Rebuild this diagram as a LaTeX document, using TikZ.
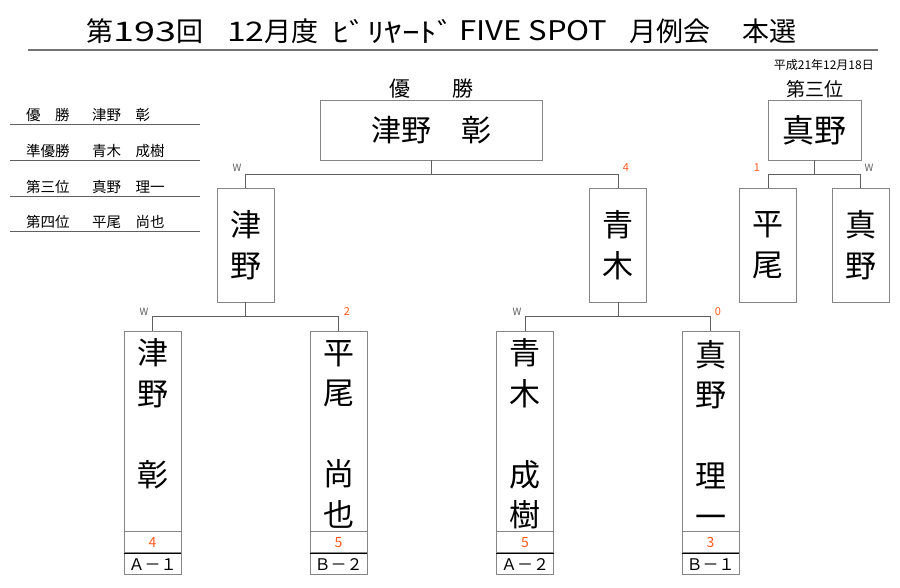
\documentclass[tikz,border=0pt]{standalone}
\usepackage{fontspec}
\setmainfont{Noto Sans CJK JP}
\usetikzlibrary{positioning}
\definecolor{scorered}{HTML}{FF5A1E}
\definecolor{framegray}{HTML}{858585}
\definecolor{linegray}{HTML}{606060}
\tikzset{
	titletext/.style={anchor=west, inner sep=0pt, font=\fontsize{27}{27}\selectfont},
	namebox/.style={draw=framegray, line width=0.9pt, inner sep=0pt, align=center, font=\fontsize{31}{40.5}\selectfont},
	tallbox/.style={draw=framegray, line width=0.9pt, inner sep=0pt, minimum width=57pt, minimum height=200pt},
	nametext/.style={inner sep=0pt, align=center, font=\fontsize{31}{40.5}\selectfont},
	midbox/.style={namebox, minimum width=57pt, minimum height=114pt},
	scorebox/.style={draw=framegray, line width=0.9pt, inner sep=0pt, minimum width=57pt, minimum height=21pt, text=scorered, font=\fontsize{14}{14}\selectfont},
	groupbox/.style={draw=framegray, line width=0.9pt, inner sep=0pt, minimum width=57pt, minimum height=21pt, font=\fontsize{16}{16}\selectfont},
	bracket/.style={draw=linegray, line width=0.9pt},
	winmark/.style={text=linegray, inner sep=0pt, font=\fontsize{10}{10}\selectfont},
	scoremark/.style={text=scorered, inner sep=0pt, font=\fontsize{11}{11}\selectfont},
	listtext/.style={anchor=west, inner sep=0pt, font=\fontsize{14.5}{14.5}\selectfont}
}

\begin{document}
\begin{tikzpicture}[x=1pt, y=-1pt]
	%%%%% START %%%%%
	\useasboundingbox (0,0) rectangle (900,587);
	
	% title
	\node[titletext] (title1) at (86,31) {第\scalebox{1.4}[1]{193}回};
	\node[titletext] (title2) at (227,31) {\scalebox{1.25}[1]{12}月度};
	\node[titletext] (title3) at (332,31) {\scalebox{1.3}[1]{ﾋﾞﾘﾔｰﾄﾞ}};
	\node[titletext] (title4) at (459,31) {\scalebox{1.15}[1]{FIVE SPOT}};
	\node[titletext] (title5) at (629,31) {月例会};
	\node[titletext] (title6) at (742,31) {本選};
	\draw[line width=2.5pt, color=black!55] (28,50) -- (878,50);
	\node[anchor=east, inner sep=0pt, font=\fontsize{12}{12}\selectfont] (date) at (874,65) {平成21年12月18日};
	
	% ranking list
	\node[listtext] (rank1) at (26,115) {優　勝};
	\node[listtext] (name1) at (92,115) {津野　彰};
	\draw[line width=0.8pt, color=linegray] (10,124) -- (200,124);
	\node[listtext] (rank2) at (26,151) {準優勝};
	\node[listtext] (name2) at (92,151) {青木　成樹};
	\draw[line width=0.8pt, color=linegray] (10,160) -- (200,160);
	\node[listtext] (rank3) at (26,187) {第三位};
	\node[listtext] (name3) at (92,187) {真野　理一};
	\draw[line width=0.8pt, color=linegray] (10,196) -- (200,196);
	\node[listtext] (rank4) at (26,222) {第四位};
	\node[listtext] (name4) at (92,222) {平尾　尚也};
	\draw[line width=0.8pt, color=linegray] (10,231) -- (200,231);
	
	% final
	\node[namebox, minimum width=222pt, minimum height=60pt, font=\fontsize{30}{30}\selectfont] (champ) at (431,130) {津野　彰};
	\node[above=1pt of champ, inner sep=0pt, font=\fontsize{21}{21}\selectfont] (champlabel) {優　　勝};
	\node[midbox] (tsuno2) at (245.5,245) {津\\野};
	\node[midbox] (aoki2) at (618,245) {青\\木};
	\draw[bracket] (champ.south) -- ++(0,14) -| (tsuno2.north);
	\draw[bracket] (champ.south) ++(0,14) -| (aoki2.north);
	\node[winmark] (w1) at (237,168) {W};
	\node[scoremark] (p1) at (626,168) {4};
	
	% third place
	\node[namebox, minimum width=93pt, minimum height=60pt, font=\fontsize{32}{32}\selectfont] (third) at (814.5,130) {真野};
	\node[above=1pt of third, inner sep=0pt, font=\fontsize{19}{19}\selectfont] (thirdlabel) {第三位};
	\node[midbox] (hirao3) at (768,245) {平\\尾};
	\node[midbox] (mano3) at (860.5,245) {真\\野};
	\draw[bracket] (third.south) -- ++(0,14) -| (hirao3.north);
	\draw[bracket] (third.south) ++(0,14) -| (mano3.north);
	\node[scoremark] (p2) at (757,168) {1};
	\node[winmark] (w2) at (869,168) {W};
	
	% first round
	\node[tallbox] (L1) at (152.5,431) {};
	\node[tallbox] (L2) at (338.5,431) {};
	\node[tallbox] (L3) at (525,431) {};
	\node[tallbox] (L4) at (710.5,431) {};
	\node[nametext] (L1name) at ([yshift=-3pt]L1.center) {津\\野\\\phantom{彰}\\彰\\\phantom{彰}};
	\node[nametext] (L2name) at ([yshift=-3pt]L2.center) {平\\尾\\\phantom{彰}\\尚\\也};
	\node[nametext] (L3name) at ([yshift=-3pt]L3.center) {青\\木\\\phantom{彰}\\成\\樹};
	\node[nametext] (L4name) at ([yshift=-3pt]L4.center) {真\\野\\\phantom{彰}\\理\\一};
	
	\node[scorebox, below=0pt of L1] (s1) {4};
	\node[scorebox, below=0pt of L2] (s2) {5};
	\node[scorebox, below=0pt of L3] (s3) {5};
	\node[scorebox, below=0pt of L4] (s4) {3};
	\node[groupbox, below=0pt of s1] (g1) {Ａ－１};
	\node[groupbox, below=0pt of s2] (g2) {Ｂ－２};
	\node[groupbox, below=0pt of s3] (g3) {Ａ－２};
	\node[groupbox, below=0pt of s4] (g4) {Ｂ－１};
	\draw[line width=0.9pt] (g1.north west) -- (g1.north east);
	\draw[line width=0.9pt] (g2.north west) -- (g2.north east);
	\draw[line width=0.9pt] (g3.north west) -- (g3.north east);
	\draw[line width=0.9pt] (g4.north west) -- (g4.north east);
	
	\draw[bracket] (tsuno2.south) -- ++(0,14) -| (L1.north);
	\draw[bracket] (tsuno2.south) ++(0,14) -| (L2.north);
	\draw[bracket] (aoki2.south) -- ++(0,14) -| (L3.north);
	\draw[bracket] (aoki2.south) ++(0,14) -| (L4.north);
	\node[winmark] (w3) at (144,312) {W};
	\node[scoremark] (p3) at (347,312) {2};
	\node[winmark] (w4) at (517,312) {W};
	\node[scoremark] (p4) at (718,312) {0};
	
	%%%%% END %%%%%
\end{tikzpicture}
\end{document}
